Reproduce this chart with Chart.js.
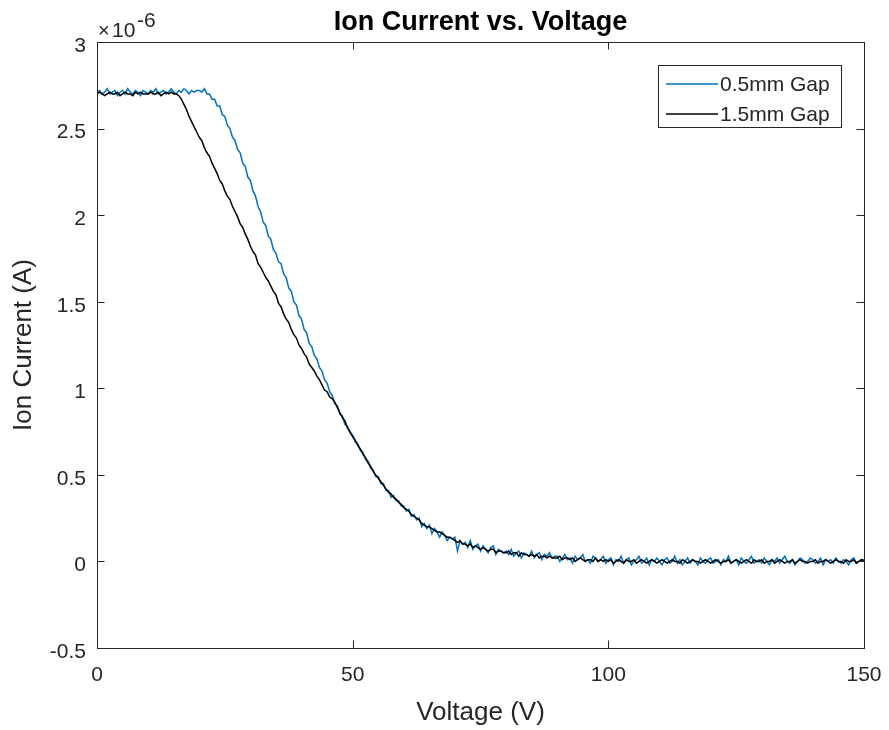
<!DOCTYPE html>
<html>
<head>
<meta charset="utf-8">
<title>Ion Current vs. Voltage</title>
<script src="https://cdn.jsdelivr.net/npm/chart.js@4/dist/chart.umd.min.js"></script>
<style>
  html, body { margin: 0; padding: 0; background: #ffffff; }
  #wrap { width: 889px; height: 730px; }
</style>
</head>
<body>
<div id="wrap"><canvas id="chart" width="889" height="730"></canvas></div>
<script>
const chartTitle = 'Ion Current vs. Voltage';
const xAxisTitle = 'Voltage (V)';
const yAxisTitle = 'Ion Current (A)';
const seriesNames = ['0.5mm Gap', '1.5mm Gap'];
const xTicks = [0, 50, 100, 150];
const yTicks = [-0.5, 0, 0.5, 1, 1.5, 2, 2.5, 3];
const yExponent = '-6';

// sample voltages, one reading every 0.5 V
const voltage = Array.from({ length: 301 }, (_, i) => i * 0.5);

// ion current, in units of 1e-6 A
const gap05 = [
  2.71,2.72,2.70,2.71,2.73,2.70,2.71,2.72,2.69,2.71,2.72,2.70,2.73,2.71,2.70,2.72,2.71,2.69,2.72,2.71,
  2.70,2.72,2.71,2.73,2.70,2.71,2.72,2.70,2.71,2.73,2.71,2.70,2.72,2.71,2.73,2.72,2.70,2.72,2.71,2.72,
  2.72,2.71,2.73,2.70,2.70,2.67,2.67,2.63,2.63,2.58,2.57,2.52,2.50,2.45,2.43,2.38,2.36,2.30,2.28,2.22,
  2.20,2.14,2.11,2.05,2.02,1.96,1.94,1.88,1.86,1.80,1.78,1.73,1.72,1.66,1.64,1.58,1.56,1.50,1.48,1.42,
  1.40,1.34,1.32,1.26,1.24,1.19,1.17,1.12,1.10,1.05,1.03,0.98,0.96,0.91,0.90,0.85,0.84,0.79,0.78,0.74,
  0.73,0.69,0.68,0.64,0.63,0.59,0.58,0.54,0.53,0.49,0.49,0.45,0.45,0.41,0.41,0.37,0.38,0.35,0.35,0.32,
  0.32,0.29,0.30,0.26,0.27,0.24,0.25,0.20,0.22,0.19,0.21,0.16,0.19,0.17,0.14,0.17,0.15,0.12,0.14,0.13,
  0.14,0.06,0.12,0.10,0.11,0.08,0.12,0.07,0.09,0.10,0.06,0.09,0.07,0.05,0.08,0.09,0.04,0.07,0.06,0.05,
  0.06,0.04,0.07,0.03,0.05,0.06,0.02,0.05,0.04,0.03,0.06,0.02,0.04,0.05,0.01,0.04,0.03,0.05,0.02,0.03,
  0.03,0.00,0.02,0.04,0.01,0.02,-0.01,0.03,0.01,0.02,0.04,0.00,0.01,-0.01,0.03,0.02,0.00,0.01,0.03,-0.01,
  0.01,0.02,-0.02,0.01,0.00,0.03,-0.01,0.01,0.02,-0.02,0.00,0.01,0.03,-0.01,0.00,0.02,-0.02,0.01,0.00,0.02,
  0.00,-0.02,0.01,0.02,-0.01,0.00,0.03,-0.01,0.01,-0.02,0.00,0.02,-0.01,0.01,0.00,-0.02,0.02,0.00,-0.01,0.01,
  0.02,-0.01,0.00,0.01,-0.02,0.01,0.00,0.03,-0.01,0.00,0.01,-0.02,0.02,0.00,-0.01,0.01,0.03,-0.01,0.00,0.01,
  -0.01,0.02,0.00,-0.02,0.01,0.00,0.02,-0.01,0.01,0.03,0.00,-0.01,0.01,-0.02,0.00,0.02,0.01,-0.01,0.00,0.02,
  0.01,-0.01,0.00,0.02,-0.02,0.01,0.00,0.01,-0.01,0.02,0.00,-0.01,0.01,0.00,-0.02,0.01,0.02,-0.01,0.00,0.01,
  0.01
];

const gap15 = [
  2.70,2.71,2.70,2.69,2.70,2.71,2.70,2.70,2.71,2.69,2.70,2.71,2.70,2.70,2.69,2.71,2.70,2.71,2.70,2.70,
  2.70,2.71,2.70,2.70,2.71,2.69,2.70,2.71,2.70,2.71,2.70,2.70,2.69,2.67,2.64,2.61,2.57,2.54,2.51,2.48,
  2.45,2.43,2.39,2.36,2.34,2.30,2.27,2.24,2.20,2.18,2.14,2.11,2.09,2.05,2.02,1.99,1.95,1.93,1.89,1.86,
  1.82,1.79,1.77,1.72,1.70,1.67,1.64,1.62,1.59,1.56,1.54,1.49,1.47,1.43,1.40,1.38,1.34,1.31,1.29,1.25,
  1.23,1.20,1.18,1.14,1.12,1.10,1.07,1.05,1.02,0.99,0.98,0.95,0.94,0.92,0.89,0.86,0.83,0.81,0.77,0.75,
  0.72,0.70,0.67,0.65,0.62,0.60,0.57,0.55,0.52,0.50,0.48,0.46,0.44,0.42,0.40,0.39,0.37,0.36,0.34,0.33,
  0.31,0.30,0.29,0.27,0.26,0.25,0.24,0.22,0.21,0.20,0.20,0.19,0.18,0.17,0.17,0.16,0.15,0.14,0.14,0.13,
  0.12,0.11,0.12,0.10,0.10,0.09,0.10,0.08,0.09,0.08,0.07,0.08,0.07,0.06,0.07,0.07,0.05,0.06,0.06,0.05,
  0.05,0.06,0.04,0.05,0.05,0.03,0.05,0.04,0.04,0.03,0.04,0.03,0.04,0.02,0.03,0.03,0.02,0.03,0.02,0.02,
  0.02,0.03,0.01,0.02,0.02,0.01,0.02,0.00,0.01,0.02,0.01,0.00,0.01,0.01,0.00,0.02,0.00,0.01,0.00,0.01,
  0.00,0.01,-0.01,0.00,0.01,0.00,-0.01,0.01,0.00,0.00,0.01,-0.01,0.00,0.01,0.00,-0.01,0.00,0.01,0.00,-0.01,
  0.00,0.01,0.00,-0.01,0.00,0.01,0.00,0.00,-0.01,0.01,0.00,-0.01,0.00,0.01,0.00,0.00,-0.01,0.00,0.01,0.00,
  -0.01,0.00,0.01,0.00,-0.01,0.00,0.00,0.01,-0.01,0.00,0.01,0.00,-0.01,0.00,0.01,0.00,-0.01,0.01,0.00,0.00,
  0.01,-0.01,0.00,0.00,0.01,-0.01,0.00,0.01,0.00,-0.01,0.00,0.00,0.01,-0.01,0.00,0.01,0.00,0.00,-0.01,0.00,
  0.00,0.01,-0.01,0.00,0.00,0.01,0.00,-0.01,0.00,0.01,0.00,0.00,-0.01,0.01,0.00,0.00,0.01,-0.01,0.00,0.01,
  0.00
];

const seriesColors = ['#0072BD', '#000000'];
const axisColor = '#262626';
const fontFamily = "'Liberation Sans', Arial, Helvetica, sans-serif";

Chart.defaults.font.family = fontFamily;

function toPoints(values) {
  return values.map((y, i) => ({ x: voltage[i], y }));
}

// Box around the plot area with inward tick marks on all four sides,
// plus the title, the exponent note and the legend box.
const framePlugin = {
  id: 'frame',
  afterDatasetsDraw(chart) {
    const { ctx, chartArea: a, scales } = chart;
    const tickLen = 7.5;
    ctx.save();
    ctx.strokeStyle = axisColor;
    ctx.lineWidth = 1;
    ctx.beginPath();
    for (const v of xTicks) {
      const px = Math.round(scales.x.getPixelForValue(v)) + 0.5;
      ctx.moveTo(px, a.bottom); ctx.lineTo(px, a.bottom - tickLen);
      ctx.moveTo(px, a.top); ctx.lineTo(px, a.top + tickLen);
    }
    for (const v of yTicks) {
      const py = Math.round(scales.y.getPixelForValue(v)) + 0.5;
      ctx.moveTo(a.left, py); ctx.lineTo(a.left + tickLen, py);
      ctx.moveTo(a.right, py); ctx.lineTo(a.right - tickLen, py);
    }
    ctx.stroke();
    ctx.strokeRect(Math.round(a.left) + 0.5, Math.round(a.top) + 0.5,
                   Math.round(a.right - a.left), Math.round(a.bottom - a.top));

    // title
    ctx.fillStyle = '#000000';
    ctx.font = 'bold 27px ' + fontFamily;
    ctx.textAlign = 'center';
    ctx.textBaseline = 'alphabetic';
    ctx.fillText(chartTitle, (a.left + a.right) / 2, 30);

    // exponent of the y values
    ctx.fillStyle = axisColor;
    ctx.textAlign = 'left';
    ctx.font = '20px ' + fontFamily;
    ctx.fillText('\u00D7', a.left + 1, 37);
    ctx.font = '21px ' + fontFamily;
    ctx.fillText('10', a.left + 15, 37);
    ctx.font = '21px ' + fontFamily;
    ctx.fillText(yExponent, a.left + 40, 27);

    // legend
    const lx = 658.5, ly = 65.5, lw = 183, lh = 62;
    ctx.fillStyle = '#ffffff';
    ctx.fillRect(lx, ly, lw, lh);
    ctx.strokeStyle = axisColor;
    ctx.strokeRect(lx, ly, lw, lh);
    ctx.font = '21px ' + fontFamily;
    ctx.textBaseline = 'middle';
    const rows = [84, 114];
    chart.data.datasets.forEach((ds, i) => {
      ctx.strokeStyle = ds.borderColor;
      ctx.lineWidth = 1.5;
      ctx.beginPath();
      ctx.moveTo(666, rows[i]); ctx.lineTo(718, rows[i]);
      ctx.stroke();
      ctx.fillStyle = axisColor;
      ctx.fillText(ds.label, 720, rows[i] + 1);
    });
    ctx.restore();
  }
};

new Chart(document.getElementById('chart'), {
  type: 'line',
  data: {
    datasets: [
      { label: seriesNames[0], data: toPoints(gap05), borderColor: seriesColors[0],
        borderWidth: 1.5, pointRadius: 0, tension: 0, fill: false, order: 1 },
      { label: seriesNames[1], data: toPoints(gap15), borderColor: seriesColors[1],
        borderWidth: 1.5, pointRadius: 0, tension: 0, fill: false, order: 0 }
    ]
  },
  options: {
    responsive: false,
    animation: false,
    events: [],
    layout: { padding: { top: 42, right: 25, left: 0, bottom: 0 } },
    plugins: { legend: { display: false }, title: { display: false }, tooltip: { enabled: false } },
    scales: {
      x: {
        type: 'linear', min: 0, max: 150,
        grid: { display: false, drawTicks: false, tickLength: 0 },
        border: { display: false },
        afterBuildTicks: s => { s.ticks = xTicks.map(v => ({ value: v })); },
        afterFit: s => { s.height = 82; s.paddingLeft = 0; s.paddingRight = 0; },
        ticks: { font: { size: 21 }, color: axisColor, padding: 15, maxRotation: 0,
                 autoSkip: false, callback: v => String(v) },
        title: { display: true, text: xAxisTitle, color: axisColor, font: { size: 26 },
                 padding: { top: 0, bottom: 2 } }
      },
      y: {
        type: 'linear', min: -0.5, max: 3,
        grid: { display: false, drawTicks: false, tickLength: 0 },
        border: { display: false },
        afterBuildTicks: s => { s.ticks = yTicks.map(v => ({ value: v })); },
        afterFit: s => { s.width = 97; s.paddingTop = 0; s.paddingBottom = 0; },
        ticks: { font: { size: 21 }, color: axisColor, padding: 11, labelOffset: 4,
                 autoSkip: false, callback: v => String(v) },
        title: { display: true, text: yAxisTitle, color: axisColor, font: { size: 26 },
                 padding: { top: 8, bottom: 0 } }
      }
    }
  },
  plugins: [framePlugin]
});
</script>
</body>
</html>
